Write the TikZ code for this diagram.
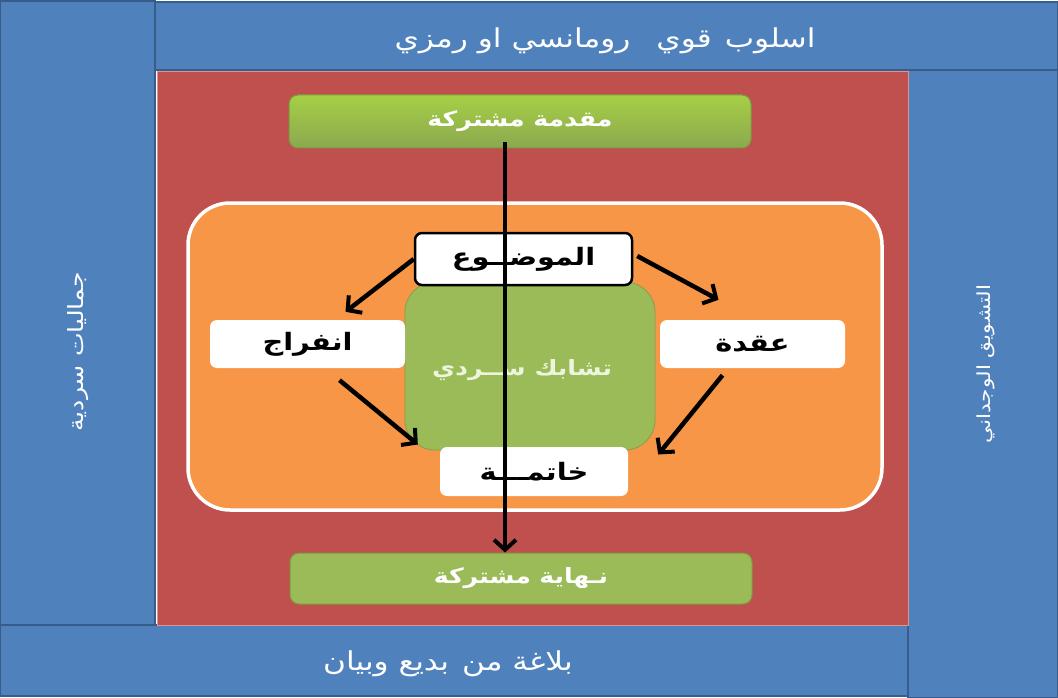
\documentclass[tikz,border=0pt]{standalone}
\usepackage{fontspec}
\usetikzlibrary{arrows.meta,calc}
\newfontfamily\arabicfont[Script=Arabic,FakeStretch=1.2]{DejaVu Sans}
\TeXXeTstate=1
\definecolor{blueA}{HTML}{4F81BD}
\definecolor{blueB}{HTML}{385D8A}
\definecolor{redA}{HTML}{C0504D}
\definecolor{redB}{HTML}{D99694}
\definecolor{greenA}{HTML}{9BBB59}
\definecolor{greenL}{HTML}{A6CF45}
\definecolor{greenB}{HTML}{7A9A3E}
\definecolor{orangeA}{HTML}{F79646}
\definecolor{txtgreen}{HTML}{EEF5DF}
\begin{document}
\begin{tikzpicture}[x=1pt,y=-1pt,
  band/.style={fill=blueA,draw=blueB,line width=2pt,minimum width=#1},
  bandtext/.style={text=white,font=\arabicfont\fontsize{#1}{30}\selectfont},
  greenbar/.style={rounded corners=9pt,draw=greenB,line width=1pt,minimum width=462pt,
     text=white,font=\arabicfont\bfseries\fontsize{21}{26}\selectfont},
  whitebox/.style={fill=white,rounded corners=7pt,minimum width=#1,minimum height=48pt,
     font=\arabicfont\bfseries\fontsize{24}{28}\selectfont},
  arr/.style={line width=4.5pt,-{Straight Barb[length=10pt,width=22pt,line width=4pt]}}
]
\useasboundingbox (0,0) rectangle (1058,698);
\fill[white] (0,0) rectangle (1058,698);
% outer bands (pinwheel)
\node[band=625pt,minimum height=155pt,rotate=90] (left) at (77.5,313.5) {};
\node[band=903pt,minimum height=68pt] (topband) at (606.5,36) {};
\node[band=150pt,minimum height=628pt] (right) at (983,384) {};
\node[band=908pt,minimum height=71pt] (botband) at (454,660.5) {};
% red square
\node[fill=redA,draw=redB,line width=1pt,minimum width=751pt,minimum height=553pt] (red) at (532.5,348.5) {};
% band texts
\node[bandtext=26] (toptext) at (605,41) {\beginR اسلوب\hspace{0.5em}قوي\hspace{1em}رومانسي او رمزي\endR};
\node[bandtext=26] (bottext) at (448,664) {\beginR بلاغة من\hspace{0.5em}بديع وبيان\endR};
\node[bandtext=21,rotate=90] (lefttext) at (78,352) {\beginR جماليات سردية\endR};
\node[bandtext=18,rotate=90] (righttext) at (986,364) {\beginR التشويق الوجداني\endR};
% green bars
\node[greenbar,top color=greenL,bottom color=greenA!90!black,minimum height=53pt] (topbar) at (520,121.5) {\beginR مقدمة مشتركة\endR};
\node[greenbar,fill=greenA,minimum height=51pt] (botbar) at (521,578.5) {\beginR نـهاية\hspace{0.4em}مشتركة\endR};
% orange panel
\node[fill=orangeA,draw=white,line width=3.5pt,rounded corners=42pt,minimum width=694pt,minimum height=307pt] (orange) at (535,356.5) {};
% central green
\node[fill=greenA,draw=greenA!85!black,line width=0.8pt,rounded corners=30pt,minimum width=250pt,minimum height=168pt] (center) at (530,366) {};
\node[text=txtgreen,font=\arabicfont\bfseries\fontsize{21}{25}\selectfont] (centertext) at (522,370) {\beginR تشابك ســردي\endR};
% white boxes
\node[whitebox=217pt,draw=black,line width=2.5pt,minimum height=52pt] (mawdu) at (523.5,259) {\beginR الموضــوع\endR};
\node[whitebox=195pt] (infiraj) at (307.5,344) {\beginR انفراج\endR};
\node[whitebox=185pt] (uqda) at (752.5,344) {\beginR عقدة\endR};
\node[whitebox=188pt,minimum height=49pt] (khatima) at (534,471.5) {\beginR خاتمـــة\endR};
% arrows
\draw[arr] (mawdu.west) -- ($(infiraj.north)+(38,-8)$);
\draw[arr] ($(mawdu.east)+(4,-3)$) -- ($(uqda.north)+(-34,-20)$);
\draw[arr] ($(infiraj.south)+(32,12)$) -- ($(khatima.west)+(-22,-27)$);
\draw[arr] ($(uqda.south)+(-30,7)$) -- ($(khatima.east)+(30,-17)$);
\draw[arr,line width=4pt] ($(topbar.south)+(-15,-6)$) -- ($(botbar.north)+(-16,0)$);
\end{tikzpicture}
\end{document}
